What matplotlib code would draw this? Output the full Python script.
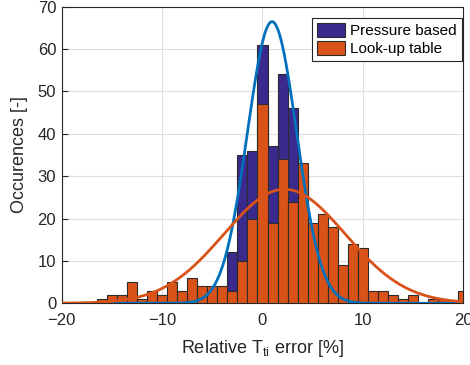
import numpy as np
import matplotlib
matplotlib.use("Agg")
import matplotlib.pyplot as plt

# Bin centres (bin width 1)
bins_lut = list(range(-16, 21))
counts_lut = [1, 2, 2, 5, 1, 3, 2, 5, 3, 6, 4, 4, 4, 3, 10, 20, 47, 19, 34, 24,
              33, 19, 21, 18, 9, 14, 13, 3, 3, 2, 1, 2, 0, 1, 1, 0, 3]

bins_pb = list(range(-6, 10))
counts_pb = [1, 2, 3, 12, 35, 36, 61, 37, 54, 46, 30, 17, 8, 4, 2, 1]

# Normal fits (mean, sigma, sample count) for the overlaid curves
fit_pb = (0.95, 2.45, 408)
fit_lut = (2.2, 6.05, 408)

series_names = ["Pressure based", "Look-up table"]
bar_colors = ["#3B2A8E", "#D95319"]
line_colors = ["#0072BD", "#D95319"]

plt.rcParams['font.family'] = ['Liberation Sans', 'DejaVu Sans']

fig = plt.figure(figsize=(4.7, 3.65), dpi=100)
ax = fig.add_axes([0.1313, 0.169, 0.8544, 0.813])

ax.bar(bins_pb, counts_pb, width=1.0, color=bar_colors[0], edgecolor="#2b2b2b",
       linewidth=0.8, label=series_names[0], zorder=2)
ax.bar(bins_lut, counts_lut, width=1.0, color=bar_colors[1], edgecolor="#2b2b2b",
       linewidth=0.8, label=series_names[1], zorder=3)

xs = np.linspace(-20, 20, 600)
for (mu, sd, n), c in zip([fit_pb, fit_lut], line_colors):
    ys = n / (sd * np.sqrt(2 * np.pi)) * np.exp(-0.5 * ((xs - mu) / sd) ** 2)
    ax.plot(xs, ys, color=c, linewidth=2.0, zorder=4)

ax.set_xlim(-20, 20)
ax.set_ylim(0, 70)
ax.set_xticks([-20, -10, 0, 10, 20])
ax.set_yticks(range(0, 71, 10))
ax.grid(True, color="#dedede", linewidth=0.8, zorder=0)
ax.set_axisbelow(True)
ax.tick_params(direction="in", length=4, labelsize=12, colors="#262626")
ax.tick_params(axis="x", pad=7)
ax.tick_params(axis="y", pad=4)
for s in ax.spines.values():
    s.set_color("#262626")
    s.set_linewidth(0.8)

ax.set_xlabel(r"Relative T$_{\mathregular{ti}}$ error [%]", fontsize=13,
              color="#262626", labelpad=7)
ax.set_ylabel("Occurences [-]", fontsize=13, color="#262626", labelpad=7)

leg = ax.legend(loc="upper right", bbox_to_anchor=(0.996, 0.960), fontsize=11,
                frameon=True, fancybox=False, edgecolor="#262626", framealpha=1,
                borderpad=0.3, handlelength=1.85, handleheight=1.0,
                handletextpad=0.35, labelspacing=0.2, borderaxespad=0.0)
leg.get_frame().set_linewidth(0.8)

fig.savefig("out.png", dpi=100)
